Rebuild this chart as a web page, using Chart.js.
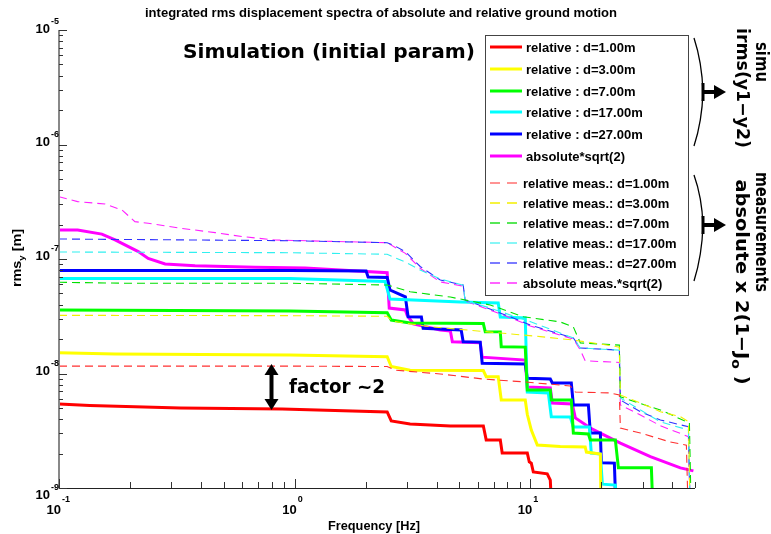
<!DOCTYPE html>
<html><head><meta charset="utf-8">
<script src="https://cdn.jsdelivr.net/npm/chart.js@4"></script>
<style>html,body{margin:0;padding:0;background:#fff}canvas{display:block}</style>
</head><body>
<canvas id="c" width="771" height="534" style="width:771px;height:534px"></canvas>
<script>
// ---------- data (frequency in Hz, integrated rms in m) ----------
const simD1F = [0.1, 0.135, 0.327, 0.885, 2.47, 2.57, 3.09, 4.58, 6.32, 6.50, 7.46, 7.60, 9.71, 9.90, 10.1, 10.3, 11.8, 12.16, 12.4];
const simD1V = [5.42e-9, 5.26e-9, 5.00e-9, 4.90e-9, 4.62e-9, 3.85e-9, 3.62e-9, 3.48e-9, 3.48e-9, 2.63e-9, 2.63e-9, 2.02e-9, 2.02e-9, 1.69e-9, 1.65e-9, 1.38e-9, 1.33e-9, 1.17e-9, 5e-10];

const simD3F = [0.1, 0.173, 0.957, 2.47, 2.57, 3.09, 6.32, 6.50, 7.31, 7.53, 9.52, 9.71, 10.1, 10.71, 13.4, 17.1, 17.3, 19.83, 20.0];
const simD3V = [1.52e-8, 1.48e-8, 1.45e-8, 1.40e-8, 1.15e-8, 1.07e-8, 1.06e-8, 9.38e-9, 9.38e-9, 5.87e-9, 5.87e-9, 4.4e-9, 3.21e-9, 2.37e-9, 2.30e-9, 2.28e-9, 2.06e-9, 1.98e-9, 5e-10];

const simD7F = [0.1, 0.957, 2.47, 2.57, 3.09, 6.32, 6.44, 7.46, 7.53, 9.52, 9.71, 12.16, 12.28, 14.93, 15.23, 17.64, 17.98, 22.96, 23.65, 32.65, 33.29];
const simD7V = [3.59e-8, 3.52e-8, 3.40e-8, 2.93e-8, 2.76e-8, 2.73e-8, 2.32e-8, 2.31e-8, 1.71e-8, 1.70e-8, 7.18e-9, 7.18e-9, 5.87e-9, 5.87e-9, 3.02e-9, 2.96e-9, 2.63e-9, 2.63e-9, 1.50e-9, 1.50e-9, 5e-10];

const simD17F = [0.1, 0.957, 2.42, 2.54, 5.05, 7.31, 7.46, 9.52, 9.71, 11.93, 12.28, 14.79, 15.23, 17.81, 18.15, 19.83, 20.22, 22.96, 23.42];
const simD17V = [6.75e-8, 6.75e-8, 6.36e-8, 4.47e-8, 4.21e-8, 4.13e-8, 3.11e-8, 3.05e-8, 6.89e-9, 6.76e-9, 4.19e-9, 4.17e-9, 3.41e-9, 3.41e-9, 2.02e-9, 1.98e-9, 1.08e-9, 1.06e-9, 5e-10];

const simD27F = [0.1, 0.957, 2.01, 2.05, 2.47, 2.54, 2.95, 3.03, 3.45, 3.51, 5.09, 5.19, 6.13, 6.25, 9.52, 9.71, 12.16, 12.40, 14.93, 15.23, 17.64, 17.98, 19.83, 20.02, 22.74, 23.19];
const simD27V = [7.93e-8, 7.93e-8, 7.85e-8, 6.96e-8, 6.89e-8, 5.36e-8, 4.68e-8, 3.13e-8, 3.11e-8, 2.48e-8, 2.40e-8, 1.89e-8, 1.88e-8, 1.23e-8, 1.21e-8, 9.08e-9, 8.95e-9, 8.26e-9, 8.26e-9, 5.31e-9, 5.31e-9, 3.02e-9, 3.02e-9, 1.66e-9, 1.65e-9, 5e-10];

const simAbsF = [0.1, 0.120, 0.152, 0.173, 0.217, 0.239, 0.282, 0.378, 0.680, 1.108, 2.47, 2.52, 2.95, 3.00, 3.19, 4.15, 4.58, 4.67, 6.13, 6.25, 9.52, 9.71, 12.16, 12.40, 15.08, 15.53, 17.98, 19.83, 24.11, 32.33, 43.35, 49.22];
const simAbsV = [1.79e-7, 1.79e-7, 1.65e-7, 1.47e-7, 1.16e-7, 1.01e-7, 9.04e-8, 8.74e-8, 8.46e-8, 8.34e-8, 7.59e-8, 3.73e-8, 3.59e-8, 3.24e-8, 2.71e-8, 2.40e-8, 2.35e-8, 1.89e-8, 1.86e-8, 1.39e-8, 1.31e-8, 7.62e-9, 7.47e-9, 5.53e-9, 5.42e-9, 4.09e-9, 3.34e-9, 3.02e-9, 2.47e-9, 1.88e-9, 1.50e-9, 1.41e-9];

const measD1F = [0.1, 0.957, 2.47, 2.67, 4.15, 6.32, 9.52, 14.79, 15.53, 21.87, 23.88, 24.11, 29.32, 39.31, 45.97, 46.88];
const measD1V = [1.16e-8, 1.16e-8, 1.15e-8, 1.07e-8, 9.90e-9, 8.95e-9, 8.43e-9, 7.78e-9, 6.89e-9, 6.76e-9, 6.49e-9, 3.34e-9, 3.02e-9, 2.52e-9, 2.37e-9, 5e-10];

const measD3F = [0.1, 0.957, 2.47, 2.59, 3.76, 7.46, 11.03, 15.23, 19.83, 23.88, 24.11, 29.32, 35.65, 43.35, 46.88, 47.80];
const measD3V = [3.22e-8, 3.20e-8, 3.16e-8, 2.87e-8, 2.56e-8, 2.26e-8, 2.10e-8, 1.96e-8, 1.81e-8, 1.70e-8, 6.49e-9, 5.53e-9, 4.64e-9, 4.19e-9, 3.80e-9, 5e-10];

const measD7F = [0.1, 0.191, 0.957, 2.47, 3.09, 4.58, 6.76, 9.34, 13.41, 15.23, 16.31, 23.88, 24.11, 35.65, 47.34, 48.27];
const measD7V = [6.26e-8, 6.14e-8, 6.14e-8, 5.93e-8, 5.18e-8, 4.65e-8, 3.97e-8, 3.13e-8, 2.82e-8, 2.55e-8, 1.85e-8, 1.77e-8, 6.25e-9, 4.80e-9, 3.70e-9, 5e-10];

const measD17F = [0.1, 0.957, 2.47, 2.95, 3.41, 4.15, 5.19, 5.29, 6.57, 8.47, 10.1, 15.23, 16.31, 23.88, 24.11, 35.65, 46.88, 47.80];
const measD17V = [1.151e-7, 1.135e-7, 1.099e-7, 9.41e-8, 8.01e-8, 6.69e-8, 5.9e-8, 4.3e-8, 3.8e-8, 3.18e-8, 2.82e-8, 2.04e-8, 1.67e-8, 1.60e-8, 6.11e-9, 3.78e-9, 3.21e-9, 5e-10];

const measD27F = [0.1, 0.957, 2.47, 2.62, 2.95, 3.41, 3.76, 4.15, 5.19, 5.29, 6.57, 8.47, 10.0, 15.23, 16.31, 23.88, 24.11, 29.32, 35.65, 46.88, 47.80];
const measD27V = [1.495e-7, 1.445e-7, 1.388e-7, 1.325e-7, 1.158e-7, 8.6e-8, 7.5e-8, 6.56e-8, 5.93e-8, 4.38e-8, 3.73e-8, 3.05e-8, 2.65e-8, 2.04e-8, 1.67e-8, 1.60e-8, 5.87e-9, 4.64e-9, 3.93e-9, 3.43e-9, 5e-10];

const measAbsF = [0.1, 0.120, 0.157, 0.185, 0.210, 0.239, 0.333, 0.460, 0.599, 0.826, 2.47, 2.95, 3.41, 4.15, 5.19, 5.29, 6.57, 8.47, 10.0, 15.23, 16.31, 17.1, 23.88, 24.11, 29.32, 35.65, 46.88, 47.80];
const measAbsV = [3.50e-7, 3.17e-7, 3.02e-7, 2.68e-7, 2.12e-7, 2.05e-7, 1.85e-7, 1.70e-7, 1.57e-7, 1.465e-7, 1.388e-7, 1.12e-7, 8.3e-8, 6.3e-8, 5.8e-8, 4.3e-8, 3.65e-8, 3.0e-8, 2.6e-8, 2.0e-8, 1.6e-8, 1.29e-8, 1.25e-8, 5.31e-9, 4.34e-9, 3.5e-9, 2.81e-9, 5e-10];

const seriesLabels = [
  'relative : d=1.00m', 'relative : d=3.00m', 'relative : d=7.00m', 'relative : d=17.00m', 'relative : d=27.00m', 'absolute*sqrt(2)',
  'relative meas.: d=1.00m', 'relative meas.: d=3.00m', 'relative meas.: d=7.00m', 'relative meas.: d=17.00m', 'relative meas.: d=27.00m', 'absolute meas.*sqrt(2)'
];
const xTickExponents = [-1, 0, 1];
const yTickExponents = [-9, -8, -7, -6, -5];
const titleText = 'integrated rms displacement spectra of absolute and relative ground motion';
const xTitle = 'Frequency [Hz]';

// ---------- build datasets ----------
const seriesF = [simD1F, simD3F, simD7F, simD17F, simD27F, simAbsF, measD1F, measD3F, measD7F, measD17F, measD27F, measAbsF];
const seriesV = [simD1V, simD3V, simD7V, simD17V, simD27V, simAbsV, measD1V, measD3V, measD7V, measD17V, measD27V, measAbsV];
const colors = ['#ff0000', '#ffff00', '#00ff00', '#00ffff', '#0000ff', '#ff00ff', '#ff3030', '#f0f000', '#00e000', '#30f0f0', '#3030ff', '#ff20ff'];
const legendColors = ['#ff0000', '#ffff00', '#00ff00', '#00ffff', '#0000ff', '#ff00ff', '#ff7070', '#f4f000', '#20e020', '#60f4f4', '#5050ff', '#ff30ff'];

const datasets = seriesLabels.map((lab, i) => {
  const dashed = i >= 6;
  return {
    label: lab,
    data: seriesF[i].map((f, j) => ({x: f, y: seriesV[i][j]})),
    borderColor: colors[i],
    backgroundColor: colors[i],
    borderWidth: dashed ? 1.1 : 3,
    borderDash: dashed ? [8, 5] : [],
    pointRadius: 0,
    tension: 0,
    fill: false,
    order: dashed ? 0 : 1
  };
});

function fitText(ctx, text, x, y, font, w, align) {
  ctx.font = font;
  const m = ctx.measureText(text).width;
  const s = w ? w / m : 1;
  ctx.save();
  ctx.translate(x, y);
  ctx.scale(s, 1);
  ctx.textAlign = align || 'left';
  ctx.fillText(text, 0, 0);
  ctx.restore();
}

function rich(ctx, parts, x, y, w, align) {
  let total = 0;
  parts.forEach(p => { ctx.font = p.font; p.w = ctx.measureText(p.t).width; total += p.w; });
  const s = w ? w / total : 1;
  ctx.save();
  ctx.translate(x, y);
  ctx.scale(s, 1);
  let cx = align === 'center' ? -total / 2 : 0;
  ctx.textAlign = 'left';
  parts.forEach(p => { ctx.font = p.font; ctx.fillText(p.t, cx, p.dy || 0); cx += p.w; });
  ctx.restore();
}

function arrowHead(ctx, tipX, tipY, dx, dy, len, half) {
  const bx = tipX - dx * len, by = tipY - dy * len;
  ctx.beginPath();
  ctx.moveTo(tipX, tipY);
  ctx.lineTo(bx - dy * half, by + dx * half);
  ctx.lineTo(bx + dy * half, by - dx * half);
  ctx.closePath();
  ctx.fill();
}

const decor = {
  id: 'decor',
  beforeDraw(chart) {
    const c = chart.ctx;
    c.save(); c.fillStyle = '#fff'; c.fillRect(0, 0, chart.width, chart.height); c.restore();
  },
  afterDraw(chart) {
    const c = chart.ctx, xs = chart.scales.x, ys = chart.scales.y, ca = chart.chartArea;
    c.save();
    c.textBaseline = 'alphabetic';
    // ---- axes ----
    c.strokeStyle = '#888'; c.lineWidth = 2;
    c.beginPath(); c.moveTo(ca.left, ca.top); c.lineTo(ca.left, ca.bottom); c.stroke();
    c.strokeStyle = '#222'; c.lineWidth = 1.2;
    c.beginPath(); c.moveTo(ca.left, ca.bottom + 0.5); c.lineTo(ca.right, ca.bottom + 0.5); c.stroke();
    c.strokeStyle = '#333'; c.lineWidth = 1;
    for (let e = -9; e <= -5; e++) {
      for (let k = 1; k <= 9; k++) {
        const v = k * Math.pow(10, e);
        if (v > 1.0001e-5) break;
        const py = Math.round(ys.getPixelForValue(v)) + 0.5;
        const len = k === 1 ? 8 : 4;
        c.beginPath(); c.moveTo(ca.left, py); c.lineTo(ca.left + len, py); c.stroke();
      }
    }
    for (let e = -1; e <= 1; e++) {
      for (let k = 1; k <= 9; k++) {
        const v = k * Math.pow(10, e);
        if (v > 50) break;
        const px = Math.round(xs.getPixelForValue(v)) + 0.5;
        const len = k === 1 ? 9 : 6;
        c.beginPath(); c.moveTo(px, ca.bottom); c.lineTo(px, ca.bottom - len); c.stroke();
      }
    }
    // ---- tick labels ----
    c.fillStyle = '#000';
    yTickExponents.forEach(e => {
      const py = ys.getPixelForValue(Math.pow(10, e));
      const off = e === -9 ? 6 : (e === -5 ? -2 : -4);
      c.font = 'bold 13px "Liberation Sans", Arial, sans-serif';
      c.textAlign = 'right';
      c.fillText('10', 50, py + off + 5);
      c.font = 'bold 9px "Liberation Sans", Arial, sans-serif';
      c.textAlign = 'left';
      c.fillText(String(e), 51, py + off - 4);
    });
    xTickExponents.forEach(e => {
      const px = xs.getPixelForValue(Math.pow(10, e));
      c.font = 'bold 13px "Liberation Sans", Arial, sans-serif';
      c.textAlign = 'right';
      c.fillText('10', px + 2, 514);
      c.font = 'bold 9px "Liberation Sans", Arial, sans-serif';
      c.textAlign = 'left';
      c.fillText(String(e), px + 3, 502);
    });
    // axis titles
    fitText(c, xTitle, 374, 530, 'bold 12px "Liberation Sans Narrow", "Liberation Sans", sans-serif', 92, 'center');
    c.save();
    c.translate(21, 258); c.rotate(-Math.PI / 2);
    rich(c, [
      {t: 'rms', font: 'bold 12px "Liberation Sans", sans-serif'},
      {t: 'y', font: 'bold 8px "Liberation Sans", sans-serif', dy: 3},
      {t: ' [m]', font: 'bold 12px "Liberation Sans", sans-serif'}
    ], 0, 0, 58, 'center');
    c.restore();
    // title
    fitText(c, titleText, 381, 17, 'bold 12px "Liberation Sans Narrow", "Liberation Sans", sans-serif', 472, 'center');

    // ---- legend ----
    c.fillStyle = '#fff';
    c.fillRect(485, 35, 203, 260);
    c.strokeStyle = '#444'; c.lineWidth = 1;
    c.strokeRect(485.5, 35.5, 203, 260);
    const rowsY = [47, 69, 91, 112, 134, 156, 183, 203, 223, 243, 263, 283];
    chart.data.datasets.forEach((ds, i) => {
      const y = rowsY[i];
      c.save();
      c.strokeStyle = legendColors[i];
      if (i < 6) {
        c.lineWidth = 3; c.setLineDash([]);
        c.beginPath(); c.moveTo(490, y); c.lineTo(522, y); c.stroke();
      } else {
        c.lineWidth = 1.6; c.setLineDash([10, 7]);
        c.beginPath(); c.moveTo(490, y); c.lineTo(518, y); c.stroke();
      }
      c.restore();
      c.fillStyle = '#000';
      c.font = 'bold 13px "Liberation Sans", Arial, sans-serif';
      c.textAlign = 'left';
      c.fillText(ds.label, i < 6 ? 526 : 523, y + 5);
    });

    // ---- annotations ----
    c.fillStyle = '#000';
    fitText(c, 'Simulation (initial param)', 183, 58, 'bold 20px "DejaVu Sans", sans-serif', 292, 'left');
    fitText(c, 'factor ~2', 289, 393, 'bold 20px "DejaVu Sans", sans-serif', 96, 'left');
    c.strokeStyle = '#000'; c.lineWidth = 4;
    c.beginPath(); c.moveTo(271.5, 372); c.lineTo(271.5, 402); c.stroke();
    arrowHead(c, 271.5, 364, 0, -1, 11, 7);
    arrowHead(c, 271.5, 410, 0, 1, 11, 7);

    function brace(y0, ym, y1) {
      c.strokeStyle = '#000'; c.lineWidth = 1.3;
      c.beginPath(); c.moveTo(694, y0); c.quadraticCurveTo(702, y0 + (ym - y0) * 0.45, 703, ym);
      c.quadraticCurveTo(702, y1 - (y1 - ym) * 0.45, 694, y1); c.stroke();
      c.lineWidth = 3;
      c.beginPath(); c.moveTo(703, ym - 9); c.lineTo(703, ym + 9); c.stroke();
      c.lineWidth = 4;
      c.beginPath(); c.moveTo(703, ym); c.lineTo(716, ym); c.stroke();
      c.fillStyle = '#000';
      arrowHead(c, 726, ym, 1, 0, 12, 7);
    }
    brace(38, 92, 146);
    brace(175, 225, 281);

    c.fillStyle = '#000';
    function rot(x, y, parts, w) {
      c.save(); c.translate(x, y); c.rotate(Math.PI / 2);
      rich(c, parts, 0, 0, w, 'center');
      c.restore();
    }
    const F = 'bold 18px "DejaVu Sans", sans-serif';
    rot(756, 62, [{t: 'simu', font: F}], 40);
    rot(737, 88, [{t: 'irms(y1\u2212y2)', font: F}], 120);
    rot(756, 232, [{t: 'measurements', font: F}], 120);
    rot(736, 282, [{t: 'absolute x 2(1\u2212J', font: F}, {t: 'o', font: 'bold 13px "DejaVu Sans", sans-serif', dy: 4}, {t: ' )', font: F}], 205);
    c.restore();
  }
};

new Chart(document.getElementById('c'), {
  type: 'line',
  data: { datasets },
  options: {
    responsive: false,
    animation: false,
    devicePixelRatio: 1,
    layout: { padding: { left: 59, top: 30, right: 76, bottom: 46 } },
    plugins: { legend: { display: false }, title: { display: false }, tooltip: { enabled: false } },
    scales: {
      x: { type: 'logarithmic', min: 0.1, max: 50, display: false },
      y: { type: 'logarithmic', min: 1e-9, max: 1e-5, display: false }
    }
  },
  plugins: [decor]
});
</script>
</body></html>
